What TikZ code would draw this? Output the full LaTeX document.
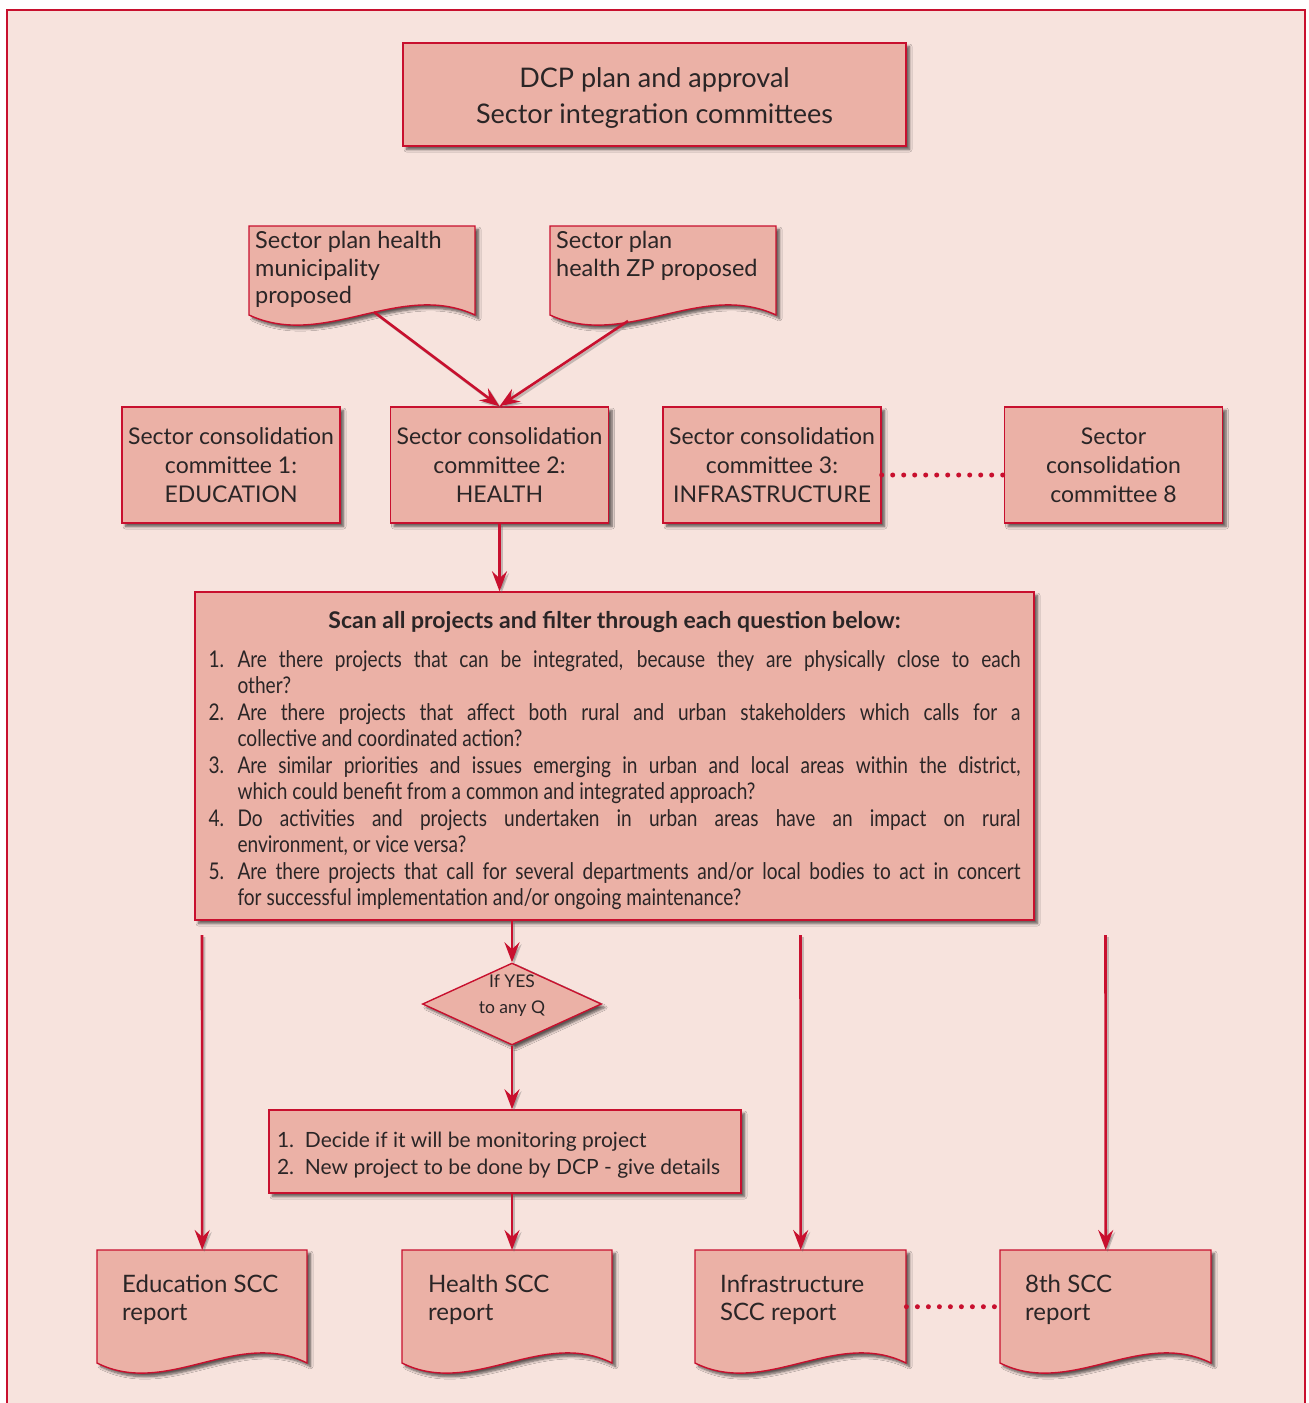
\documentclass[tikz,border=0pt]{standalone}
\usepackage{fontspec}
\setmainfont{Lato}
\newfontfamily\narrowfont[FakeStretch=0.83]{Lato}
\usetikzlibrary{shapes.geometric,arrows.meta,shadows.blur}

\definecolor{pagebg}{HTML}{F7E3DD}
\definecolor{boxfill}{HTML}{EBB1A6}
\definecolor{crimson}{HTML}{C8102E}
\definecolor{ink}{HTML}{2A2526}

% document symbol: straight top, wavy bottom (x1,ytop,x2,ybottom)
\newcommand\docpath[4]{(#1,#2) -- (#3,#2) -- (#3,#4)
  .. controls ({#3-(#3-#1)/3},{#4-35}) and ({#1+(#3-#1)/3},{#4+35}) .. (#1,#4) -- cycle}
% text block of a document symbol: width, height, left pad, top pad, text
\newcommand\doctext[5]{\begin{minipage}[t][#2][t]{#1}\vspace*{#4}\raggedright\leftskip=#3\relax #5\end{minipage}}
% numbered question with hanging indent
\newcommand\qitem[2]{\par\hangindent=29pt\hangafter=1\noindent\makebox[29pt][l]{#1}#2\par}

\tikzset{
  shade box/.style={blur shadow={shadow xshift=3.5pt, shadow yshift=-3.5pt,
      shadow blur radius=2.5pt, shadow blur steps=6, shadow opacity=62}},
  box/.style={draw=crimson, fill=boxfill, line width=1.4pt, shade box,
      text=ink, inner sep=0pt},
  docfill/.style={draw=crimson, fill=boxfill, line width=1.4pt, shade box},
  doclabel/.style={inner sep=0pt, anchor=north west, text=ink},
  flow/.style={draw=crimson, line width=2.6pt,
      -{Stealth[length=20pt,width=15pt,inset=7pt]},
      preaction={draw=black!60, opacity=.35, line width=2.6pt,
        transform canvas={shift={(2pt,-2pt)}}}},
  dots/.style={draw=crimson, line width=5pt, line cap=round,
      dash pattern=on 0pt off 11pt},
  committee/.style={box, minimum width=218pt, minimum height=116pt, align=center,
      font=\fontsize{23}{29}\selectfont},
}

\begin{document}
\begin{tikzpicture}[x=1pt,y=-1pt]
  \useasboundingbox (0,0) rectangle (1309,1403);
  \fill[white] (0,0) rectangle (1309,1403);
  \draw[crimson, line width=1.5pt, fill=pagebg] (7,10) rectangle (1305,1430);

  % heading
  \node[box, minimum width=503pt, minimum height=103pt, align=center,
        font=\fontsize{27}{36}\selectfont] (title) at (654.5,94.5)
        {\raisebox{-10pt}[0pt][0pt]{\begin{tabular}{@{}c@{}}DCP plan and approval\\Sector integration committees\end{tabular}}};

  % proposed sector plans
  \path[docfill] \docpath{249}{226}{475}{315};
  \path[docfill] \docpath{550}{226}{776}{315};
  \node[doclabel, font=\fontsize{23.5}{27.5}\selectfont] (docA) at (249,226)
    {\doctext{226pt}{89pt}{6pt}{5pt}{Sector plan health\\municipality\\proposed}};
  \node[doclabel, font=\fontsize{23.5}{27.5}\selectfont] (docB) at (550,226)
    {\doctext{226pt}{89pt}{6pt}{5pt}{Sector plan\\health ZP proposed}};
  \coordinate (docAout) at (374,312);
  \coordinate (docBout) at (628,321);

  % sector consolidation committees
  \node[committee] (C1) at (231,465) {Sector consolidation\\committee 1:\\EDUCATION};
  \node[committee] (C2) at (499.5,465) {Sector consolidation\\committee 2:\\HEALTH};
  \node[committee] (C3) at (772,465) {Sector consolidation\\committee 3:\\INFRASTRUCTURE};
  \node[committee] (C8) at (1113.5,465) {Sector\\consolidation\\committee 8};

  \draw[flow] (docAout) -- (C2.north);
  \draw[flow] (docBout) -- (C2.north);
  \draw[dots] ([yshift=-10pt]C3.east) -- ([yshift=-10pt]C8.west);

  % screening questions
  \node[box, minimum width=839pt, minimum height=328pt] (scan) at (614.5,756)
  {\begin{minipage}{812pt}\vspace*{10pt}\fontsize{23}{26.5}\selectfont
    {\centering\bfseries Scan all projects and filter through each question below:\par}
    \vspace{12pt}\narrowfont\fontsize{23}{26.5}\selectfont
    \qitem{1.}{Are there projects that can be integrated, because they are physically close to each\linebreak other?}
    \qitem{2.}{Are there projects that affect both rural and urban stakeholders which calls for a\linebreak collective and coordinated action?}
    \qitem{3.}{Are similar priorities and issues emerging in urban and local areas within the district,\linebreak which could benefit from a common and integrated approach?}
    \qitem{4.}{Do activities and projects undertaken in urban areas have an impact on rural\linebreak environment, or vice versa?}
    \qitem{5.}{Are there projects that call for several departments and/or local bodies to act in concert\linebreak for successful implementation and/or ongoing maintenance?}
  \end{minipage}};
  \draw[flow] (C2.south) -- (C2.south |- scan.north);

  % decision
  \node[box, diamond, aspect=2.18, minimum width=179pt, minimum height=82pt,
        font=\fontsize{17.5}{26}\selectfont] (yes) at (512,1004)
        {\raisebox{4pt}[0pt][0pt]{\begin{tabular}{@{}c@{}}If YES\\to any Q\end{tabular}}};

  \node[box, minimum width=472pt, minimum height=83pt] (act) at (505,1151.5)
  {\begin{minipage}{456pt}\vspace*{8pt}\fontsize{21}{27}\selectfont
    \noindent\makebox[28pt][l]{1.}Decide if it will be monitoring project\\
    \makebox[28pt][l]{2.}New project to be done by DCP - give details
  \end{minipage}};

  % sector reports
  \path[docfill] \docpath{97}{1250}{307}{1363};
  \path[docfill] \docpath{402}{1250}{612}{1363};
  \path[docfill] \docpath{695}{1250}{906}{1363};
  \path[docfill] \docpath{1000}{1250}{1211}{1363};
  \node[doclabel, font=\fontsize{24}{28}\selectfont] (edu) at (97,1250)
    {\doctext{210pt}{113pt}{25pt}{25pt}{Education SCC\\report}};
  \node[doclabel, font=\fontsize{24}{28}\selectfont] (health) at (402,1250)
    {\doctext{210pt}{113pt}{26pt}{25pt}{Health SCC\\report}};
  \node[doclabel, font=\fontsize{24}{28}\selectfont] (infra) at (695,1250)
    {\doctext{211pt}{113pt}{25pt}{25pt}{Infrastructure\\SCC report}};
  \node[doclabel, font=\fontsize{24}{28}\selectfont] (eighth) at (1000,1250)
    {\doctext{211pt}{113pt}{25pt}{25pt}{8th SCC\\report}};

  \coordinate (eduin) at (202,935);
  \coordinate (infrain) at (800.5,935);
  \coordinate (eighthin) at (1105.5,935);

  \draw[flow] (yes.north |- scan.south) -- (yes.north);
  \draw[flow] (yes.south) -- (yes.south |- act.north);
  \draw[flow] (yes.south |- act.south) -- (yes.south |- health.north);
  \draw[flow] (eduin) -- (edu.north);
  \draw[flow] (infrain) -- (infra.north);
  \draw[flow] (eighthin) -- (eighth.north);
  \draw[dots] (infra.east) -- (eighth.west);
\end{tikzpicture}
\end{document}
